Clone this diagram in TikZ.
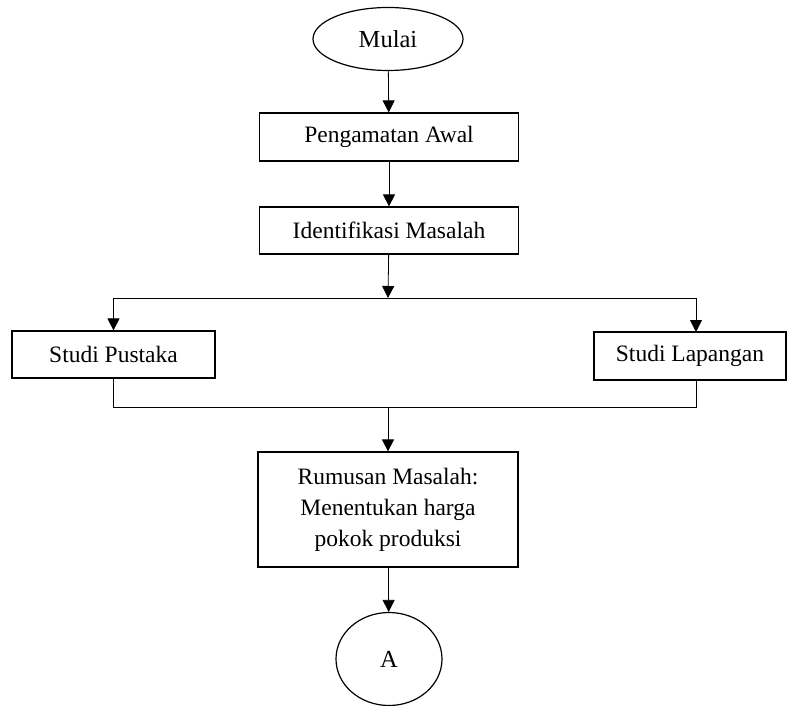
\documentclass[tikz,border=0pt]{standalone}
\usepackage{fontspec}
\setmainfont{Liberation Serif}
\usetikzlibrary{arrows.meta}
\usetikzlibrary{shapes.geometric}
\tikzset{terminal/.style={
    ellipse, draw=black, line width=1.2pt,
    inner sep=0pt, font=\fontsize{24.5}{28}\selectfont
}}
\tikzset{process/.style={
    rectangle, draw=black, line width=1.2pt,
    inner sep=0pt, align=center,
    font=\fontsize{23.5}{31}\selectfont
}}
\tikzset{flow/.style={
    line width=0.8pt,
    -{Triangle[length=12pt,width=12pt]}
}}
\tikzset{plain flow/.style={
    line width=0.8pt
}}

\begin{document}
\begin{tikzpicture}[x=1pt,y=-1pt]
            \useasboundingbox (0,0) rectangle (787,706);

            \node (mulai)  [terminal, minimum width=150pt, minimum height=63pt] at(388,39)  {Mulai};
            \node (awal)   [process, minimum width=259pt, minimum height=48pt]  at(389,137) {Pengamatan Awal};
            \node (ident)  [process, minimum width=259pt, minimum height=47pt]  at(389,230.5) {Identifikasi Masalah};
            \node (pustaka)  [process, minimum width=203pt, minimum height=47pt] at(113.5,354.5) {Studi Pustaka};
            \node (lapangan) [process, minimum width=192pt, minimum height=48pt] at(690,356) {Studi Lapangan};
            \node (rumusan)  [process, minimum width=260pt, minimum height=115pt] at(388,509.5)
                {Rumusan Masalah:\\Menentukan harga\\pokok produksi};
            \node (A)      [terminal, minimum width=106pt, minimum height=93pt] at(389,659) {A};

            \coordinate (split) at(388,298);
            \coordinate (join)  at(388,407);
            \coordinate (lapin)  at(696,332);
            \coordinate (lapout) at(696,380);

            % edges
            \path [flow]
              (mulai) edge (awal)
              (awal) edge (ident)
              (ident) edge (split)
              (join) edge (rumusan)
              (rumusan) edge (A)
              ;
            \draw [flow] (split) -| (pustaka.north);
            \draw [flow] (split) -| (lapin);
            \draw [plain flow] (pustaka.south) |- (join);
            \draw [plain flow] (lapout) |- (join);
        \end{tikzpicture}
\end{document}
